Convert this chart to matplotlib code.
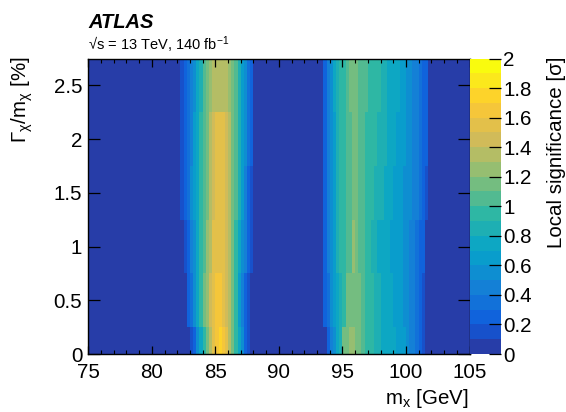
import numpy as np
import matplotlib
matplotlib.use("Agg")
import matplotlib.pyplot as plt
from matplotlib.colors import ListedColormap, BoundaryNorm

plt.rcParams['font.family'] = ['Liberation Sans', 'DejaVu Sans']
plt.rcParams['mathtext.fontset'] = 'custom'
plt.rcParams['mathtext.rm'] = 'Liberation Sans'
plt.rcParams['mathtext.it'] = 'Liberation Sans:italic'
plt.rcParams['mathtext.bf'] = 'Liberation Sans:bold'

# ---------------- data ----------------
mass_min, mass_max, mass_step = 75.0, 105.0, 0.25
width_values = [0.0, 0.5, 1.0, 1.5, 2.0, 2.5]   # Gamma/m [%] bin centres

peak1_start = 82.0
peak1_rows = {
    0.0: [0, 0, 0, 0, 0.15, 0.3, 0.5, 0.75, 0.98, 1.2, 1.4, 1.58, 1.7, 1.72, 1.66, 1.55, 1.4, 1.2, 0.98, 0.75, 0.5, 0.3, 0.15, 0, 0, 0],
    0.5: [0, 0, 0, 0.2, 0.35, 0.55, 0.75, 0.92, 1.1, 1.28, 1.42, 1.55, 1.62, 1.6, 1.55, 1.45, 1.3, 1.1, 0.9, 0.68, 0.48, 0.3, 0.15, 0, 0, 0],
    1.0: [0, 0, 0.15, 0.3, 0.45, 0.6, 0.75, 0.9, 1.05, 1.22, 1.38, 1.5, 1.58, 1.55, 1.5, 1.42, 1.3, 1.15, 0.95, 0.78, 0.58, 0.4, 0.25, 0.15, 0, 0],
    1.5: [0, 0.1, 0.2, 0.35, 0.5, 0.62, 0.78, 0.92, 1.05, 1.2, 1.35, 1.48, 1.55, 1.58, 1.52, 1.42, 1.3, 1.15, 1.0, 0.82, 0.62, 0.45, 0.3, 0.15, 0, 0],
    2.0: [0, 0.15, 0.25, 0.35, 0.48, 0.62, 0.78, 0.92, 1.05, 1.2, 1.35, 1.45, 1.52, 1.58, 1.52, 1.45, 1.35, 1.2, 1.05, 0.88, 0.68, 0.5, 0.35, 0.2, 0, 0],
    2.5: [0, 0.15, 0.25, 0.35, 0.45, 0.58, 0.72, 0.88, 1.0, 1.12, 1.25, 1.35, 1.38, 1.38, 1.38, 1.35, 1.22, 1.12, 1.0, 0.88, 0.68, 0.5, 0.35, 0.2, 0, 0],
}

peak2_start = 93.0
peak2_rows = {
    0.0: [0, 0, 0, 0.25, 0.45, 0.6, 0.75, 0.88, 1.12, 1.2, 1.22, 1.22, 1.2, 1.15, 1.02, 0.95, 0.92, 0.9, 0.88, 0.82, 0.78, 0.75, 0.75, 0.72, 0.72, 0.7, 0.68, 0.62, 0.55, 0.48, 0.42, 0.35, 0.25, 0.15, 0, 0, 0],
    0.5: [0, 0, 0.2, 0.35, 0.5, 0.65, 0.78, 0.88, 0.95, 1.12, 1.18, 1.18, 1.15, 1.1, 1.0, 0.95, 0.92, 0.9, 0.85, 0.8, 0.78, 0.75, 0.72, 0.72, 0.7, 0.68, 0.65, 0.6, 0.55, 0.48, 0.42, 0.35, 0.28, 0.18, 0, 0, 0],
    1.0: [0, 0, 0.25, 0.4, 0.55, 0.7, 0.82, 0.9, 0.95, 1.02, 1.08, 1.22, 1.1, 1.05, 1.0, 0.95, 0.92, 0.88, 0.82, 0.78, 0.75, 0.72, 0.72, 0.7, 0.68, 0.65, 0.62, 0.58, 0.52, 0.45, 0.4, 0.35, 0.28, 0.2, 0, 0, 0],
    1.5: [0, 0, 0.25, 0.4, 0.55, 0.7, 0.82, 0.9, 0.95, 1.02, 1.08, 1.12, 1.1, 1.06, 1.02, 0.98, 0.95, 0.92, 0.88, 0.85, 0.8, 0.78, 0.75, 0.72, 0.7, 0.68, 0.65, 0.6, 0.55, 0.5, 0.45, 0.4, 0.32, 0.25, 0.15, 0, 0],
    2.0: [0, 0, 0.25, 0.4, 0.55, 0.7, 0.82, 0.9, 0.95, 1.02, 1.08, 1.12, 1.1, 1.06, 1.02, 0.98, 0.95, 0.95, 0.92, 0.88, 0.85, 0.8, 0.78, 0.75, 0.72, 0.7, 0.68, 0.62, 0.58, 0.52, 0.45, 0.4, 0.35, 0.28, 0.2, 0, 0],
    2.5: [0, 0, 0.3, 0.45, 0.6, 0.75, 0.85, 0.92, 0.98, 1.04, 1.1, 1.12, 1.1, 1.08, 1.04, 1.0, 0.95, 0.95, 0.92, 0.9, 0.88, 0.85, 0.78, 0.75, 0.75, 0.72, 0.7, 0.65, 0.6, 0.52, 0.45, 0.42, 0.38, 0.3, 0.25, 0, 0],
}

x_ticks = [75, 80, 85, 90, 95, 100, 105]
y_ticks = [0, 0.5, 1, 1.5, 2, 2.5]
y_tick_labels = ["0", "0.5", "1", "1.5", "2", "2.5"]
z_ticks = [0, 0.2, 0.4, 0.6, 0.8, 1.0, 1.2, 1.4, 1.6, 1.8, 2.0]
z_tick_labels = ["0", "0.2", "0.4", "0.6", "0.8", "1", "1.2", "1.4", "1.6", "1.8", "2"]

# ---------------- grid ----------------
nx = int(round((mass_max - mass_min) / mass_step))
x_edges = mass_min + mass_step * np.arange(nx + 1)
y_edges = np.array([w - 0.25 for w in width_values] + [width_values[-1] + 0.25])
Z = np.zeros((len(width_values), nx))
for r, w in enumerate(width_values):
    for start, rows in ((peak1_start, peak1_rows), (peak2_start, peak2_rows)):
        vals = rows[w]
        i0 = int(round((start - mass_min) / mass_step))
        Z[r, i0:i0 + len(vals)] = vals

# ---------------- ROOT kBird palette, 20 levels ----------------
stops = np.linspace(0, 1, 9)
red = [0.2082, 0.0592, 0.0780, 0.0232, 0.1802, 0.5301, 0.8186, 0.9956, 0.9764]
green = [0.1664, 0.3599, 0.5041, 0.6419, 0.7178, 0.7492, 0.7328, 0.7862, 0.9832]
blue = [0.5293, 0.8684, 0.8385, 0.7914, 0.6425, 0.4662, 0.3499, 0.1968, 0.0539]
ncol, nlev = 255, 20
levels_col = []
for i in range(nlev):
    idx = int((i + 0.99) * ncol / nlev)
    t = min(idx, ncol - 1) / (ncol - 1)
    levels_col.append((np.interp(t, stops, red), np.interp(t, stops, green), np.interp(t, stops, blue)))
cmap = ListedColormap(levels_col)
norm = BoundaryNorm(np.linspace(0, 2, nlev + 1), nlev)

# ---------------- figure ----------------
W, H = 566, 412
fig = plt.figure(figsize=(W / 100, H / 100), dpi=100)
L, R, T, B = 88.3, 469.5, 58.5, 354.0
ax = fig.add_axes([L / W, 1 - B / H, (R - L) / W, (B - T) / H])
cax = fig.add_axes([R / W, 1 - B / H, 31.5 / W, (B - T) / H])

mesh = ax.pcolormesh(x_edges, y_edges, Z, cmap=cmap, norm=norm, shading='flat')
ax.set_xlim(mass_min, mass_max)
ax.set_ylim(0, 2.75)
ax.set_xticks(x_ticks)
ax.set_xticks(np.arange(75, 105.1, 1), minor=True)
ax.set_yticks(y_ticks)
ax.set_yticklabels(y_tick_labels)
ax.tick_params(axis='x', which='major', direction='in', length=5.5, width=0.9, top=True, bottom=True,
               labelsize=14.8, pad=6.5)
ax.tick_params(axis='x', which='minor', direction='in', length=2.8, width=0.8, top=True, bottom=True)
ax.tick_params(axis='y', which='major', direction='in', length=8.6, width=0.9, left=True, right=True,
               labelsize=14.8, pad=4.3)
for s in ax.spines.values():
    s.set_linewidth(1.0)

cb = fig.colorbar(mesh, cax=cax, ticks=z_ticks)
cb.outline.set_linewidth(0)
cax.set_yticklabels(z_tick_labels)
cax.tick_params(direction='in', length=8.6, width=0.9, right=True, left=False, labelsize=14.8, pad=1.5)
cax.minorticks_off()

fig.text(557 / W, 1 - 57 / H, "Local significance [σ]", rotation=90, ha='center', va='top', fontsize=14.8)
fig.text(22 / W, 1 - 57 / H, r"Γ$_{\mathrm{χ}}$/m$_{\mathrm{χ}}$ [%]", rotation=90, ha='center', va='top',
         fontsize=14.8)
fig.text(469 / W, 1 - 404 / H, r"m$_{\mathrm{x}}$ [GeV]", ha='right', va='baseline', fontsize=14.8)
fig.text(88 / W, 1 - 28.5 / H, "ATLAS", ha='left', va='baseline', fontsize=14.5, fontweight='bold',
         fontstyle='italic')
fig.text(88 / W, 1 - 50 / H, r"√s = 13 TeV, 140 fb$^{-1}$", ha='left', va='baseline',
         fontsize=10.5)

fig.savefig("out.png", dpi=100)
